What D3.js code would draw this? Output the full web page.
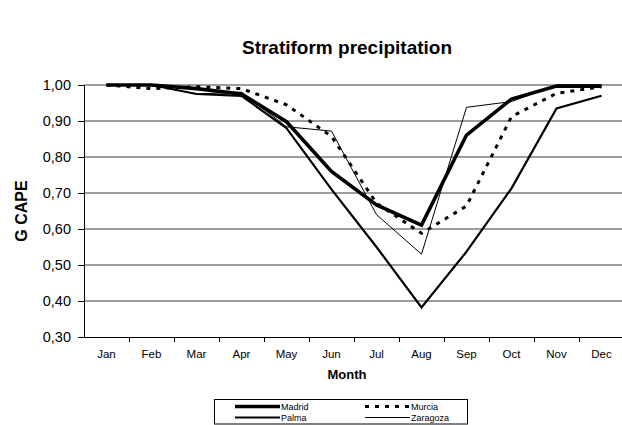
<!DOCTYPE html>
<html>
<head>
<meta charset="utf-8">
<script src="https://cdn.jsdelivr.net/npm/d3@7.9.0/dist/d3.min.js"></script>
<style>
  body { margin: 0; background: #fff; }
  svg { display: block; font-family: "Liberation Sans", Arial, sans-serif; }
</style>
</head>
<body>
<div id="chart"></div>
<script>
const months = ["Jan", "Feb", "Mar", "Apr", "May", "Jun", "Jul", "Aug", "Sep", "Oct", "Nov", "Dec"];
const yTicks = [0.3, 0.4, 0.5, 0.6, 0.7, 0.8, 0.9, 1.0];

const madrid = [1.0, 1.0, 0.99, 0.975, 0.898, 0.76, 0.667, 0.611, 0.861, 0.961, 0.997, 0.997];
const murcia = [1.0, 0.99, 0.995, 0.99, 0.945, 0.857, 0.672, 0.588, 0.664, 0.912, 0.977, 0.995];
const palma = [1.0, 1.0, 0.975, 0.97, 0.88, 0.71, 0.55, 0.382, 0.537, 0.713, 0.935, 0.97];
const zaragoza = [1.0, 1.0, 0.975, 0.98, 0.884, 0.872, 0.64, 0.53, 0.938, 0.954, 1.0, 1.0];

const series = [
  { name: "Madrid", values: madrid, width: 3.6, dash: null },
  { name: "Murcia", values: murcia, width: 3, dash: "4,6" },
  { name: "Palma", values: palma, width: 2.2, dash: null },
  { name: "Zaragoza", values: zaragoza, width: 1, dash: null },
];

const width = 622;
const height = 425;
const plot = { left: 84, right: 624, top: 85, bottom: 337 };

const svg = d3.select("#chart").append("svg")
  .attr("width", width)
  .attr("height", height);

const x = d3.scalePoint().domain(months).range([plot.left, plot.right]).padding(0.5);
const xBand = d3.scaleBand().domain(months).range([plot.left, plot.right]);
const y = d3.scaleLinear().domain([0.3, 1.0]).range([plot.bottom, plot.top]);

// title
svg.append("text")
  .attr("x", 347).attr("y", 54)
  .attr("text-anchor", "middle")
  .style("font-size", "19px").style("font-weight", "bold")
  .text("Stratiform precipitation");

// gridlines
svg.append("g")
  .selectAll("line")
  .data(yTicks.filter((d) => d > 0.3))
  .join("line")
  .attr("x1", plot.left).attr("x2", plot.right)
  .attr("y1", (d) => y(d)).attr("y2", (d) => y(d))
  .attr("stroke", "#3a3a3a").attr("stroke-width", 1);

// y axis
const yAxis = svg.append("g")
  .attr("transform", `translate(${plot.left},0)`)
  .call(d3.axisLeft(y).tickValues(yTicks).tickSize(6).tickPadding(7)
    .tickFormat((d) => d3.format(".2f")(d).replace(".", ",")));
yAxis.select(".domain").attr("stroke", "#000");
yAxis.selectAll("text").style("font-size", "14.5px").attr("fill", "#000")
  .style("font-family", "'Liberation Sans', Arial, sans-serif");

// x axis
const xAxis = svg.append("g")
  .attr("transform", `translate(0,${plot.bottom})`);
xAxis.append("line")
  .attr("x1", plot.left).attr("x2", plot.right)
  .attr("y1", 0.5).attr("y2", 0.5)
  .attr("stroke", "#000");
xAxis.selectAll("line.tick")
  .data(months.slice(1))
  .join("line")
  .attr("class", "tick")
  .attr("x1", (d) => xBand(d) + 0.5).attr("x2", (d) => xBand(d) + 0.5)
  .attr("y1", 0).attr("y2", 5)
  .attr("stroke", "#000");
xAxis.selectAll("text")
  .data(months)
  .join("text")
  .attr("x", (d) => x(d))
  .attr("y", 21)
  .attr("text-anchor", "middle")
  .style("font-size", "11.5px")
  .text((d) => d);

// axis titles
svg.append("text")
  .attr("x", 347).attr("y", 379)
  .attr("text-anchor", "middle")
  .style("font-size", "13px").style("font-weight", "bold")
  .text("Month");

svg.append("text")
  .attr("transform", `translate(27,${(plot.top + plot.bottom) / 2}) rotate(-90)`)
  .attr("text-anchor", "middle")
  .style("font-size", "16px").style("font-weight", "bold")
  .text("G CAPE");

// lines
const line = d3.line()
  .x((d, i) => x(months[i]))
  .y((d) => y(d));

svg.append("g")
  .selectAll("path")
  .data([series[2], series[3], series[1], series[0]])
  .join("path")
  .attr("d", (d) => line(d.values))
  .attr("fill", "none")
  .attr("stroke", "#000")
  .attr("stroke-width", (d) => d.width)
  .attr("stroke-dasharray", (d) => d.dash)
  .attr("stroke-linejoin", "miter");

// legend
const legend = svg.append("g");
legend.append("rect")
  .attr("x", 214.5).attr("y", 399.5)
  .attr("width", 253).attr("height", 24.5)
  .attr("fill", "#fff").attr("stroke", "#000");

const legendPos = [
  { s: series[0], x: 235, y: 406.5 },
  { s: series[1], x: 365, y: 406.5 },
  { s: series[2], x: 235, y: 417.5 },
  { s: series[3], x: 365, y: 417.5 },
];
legendPos.forEach(({ s, x: lx, y: ly }) => {
  legend.append("line")
    .attr("x1", lx).attr("x2", lx + 45)
    .attr("y1", ly).attr("y2", ly)
    .attr("stroke", "#000")
    .attr("stroke-width", s.width)
    .attr("stroke-dasharray", s.dash);
  legend.append("text")
    .attr("x", lx + 46).attr("y", ly + 3.5)
    .style("font-size", "9px")
    .text(s.name);
});
</script>
</body>
</html>
